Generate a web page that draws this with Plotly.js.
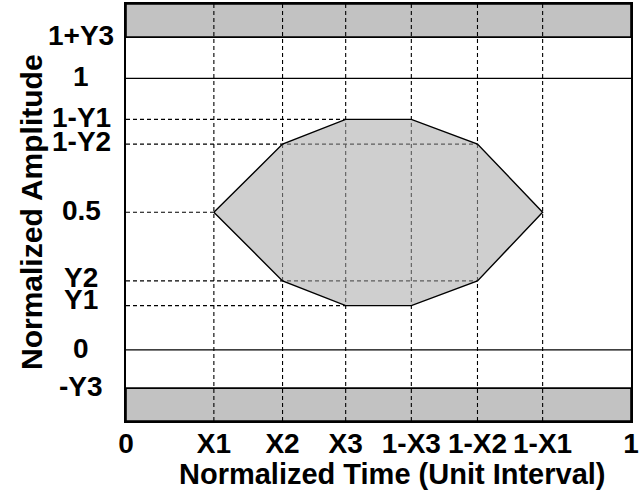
<!DOCTYPE html>
<html>
<head>
<meta charset="utf-8">
<script src="https://cdn.plot.ly/plotly-3.0.1.min.js"></script>
<style>html,body{margin:0;padding:0;background:#fff;}#chart{width:639px;height:499px;}</style>
</head>
<body>
<div id="chart"></div>
<script>
// ---- data ----
const xTickLabels = ['0', 'X1', 'X2', 'X3', '1-X3', '1-X2', '1-X1', '1'];
const xTickValues = [0, 0.174, 0.310, 0.435, 0.565, 0.696, 0.825, 1];
const yTickLabels = ['-Y3', '0', 'Y1', 'Y2', '0.5', '1-Y2', '1-Y1', '1', '1+Y3'];
const yTickValues = [-0.141, 0, 0.163, 0.254, 0.507, 0.758, 0.849, 1, 1.152];
const maskX = [0.174, 0.310, 0.435, 0.565, 0.696, 0.825, 0.696, 0.565, 0.435, 0.310, 0.174];
const maskY = [0.507, 0.758, 0.849, 0.849, 0.758, 0.507, 0.254, 0.163, 0.163, 0.254, 0.507];
const guideLevelsY = [0.849, 0.758, 0.507, 0.254, 0.163];
const guideEndsX = [0.435, 0.696, 0.174, 0.696, 0.435];
const verticalGuidesX = [0.174, 0.310, 0.435, 0.565, 0.696, 0.825];
const solidLevelsY = [0, 1];
const bandLowerY = [1.152, -0.262];
const bandUpperY = [1.274, -0.141];
const xRange = [0, 1];
const yRange = [-0.262, 1.274];

const FONT = 'Arial, "Liberation Sans", Helvetica, sans-serif';
const traces = [];

// gray limit bands
bandLowerY.forEach((lo, i) => {
  const hi = bandUpperY[i];
  traces.push({
    type: 'scatter', mode: 'lines', hoverinfo: 'skip', showlegend: false,
    x: [xRange[0], xRange[1], xRange[1], xRange[0], xRange[0]],
    y: [lo, lo, hi, hi, lo],
    fill: 'toself', fillcolor: '#c2c2c2',
    line: {color: '#000', width: 1.6}
  });
});

// solid level lines (0 and 1)
{
  const x = [], y = [];
  solidLevelsY.forEach(v => { x.push(xRange[0], xRange[1], null); y.push(v, v, null); });
  traces.push({type: 'scatter', mode: 'lines', hoverinfo: 'skip', showlegend: false,
    x, y, line: {color: '#000', width: 1.3}});
}

// dashed guides
{
  const x = [], y = [];
  verticalGuidesX.forEach(v => { x.push(v, v, null); y.push(yRange[0], yRange[1], null); });
  guideLevelsY.forEach((v, i) => { x.push(xRange[0], guideEndsX[i], null); y.push(v, v, null); });
  traces.push({type: 'scatter', mode: 'lines', hoverinfo: 'skip', showlegend: false,
    x, y, line: {color: '#000', width: 1.1, dash: '4px,3px'}});
}

// eye mask polygon
traces.push({
  type: 'scatter', mode: 'lines', hoverinfo: 'skip', showlegend: false,
  x: maskX, y: maskY, fill: 'toself', fillcolor: 'rgba(168,168,168,0.55)',
  line: {color: '#000', width: 1.4}
});

const plotLeft = 126, plotWidth = 505, plotTop = 4, plotHeight = 417;
const annotations = yTickLabels.map((t, i) => ({
  text: t, xref: 'paper', yref: 'y', x: (81 - plotLeft) / plotWidth, y: yTickValues[i],
  xanchor: 'center', yanchor: 'middle', showarrow: false, height: 21, valign: 'middle',
  yshift: t === 'Y1' ? 6 : (t === 'Y2' || t === '1-Y2') ? 3 : 1.5,
  font: {family: FONT, size: 28, color: '#000', weight: 'bold'}
}));
annotations.push({
  text: 'Normalized Amplitude', xref: 'paper', yref: 'paper',
  x: (31 - plotLeft) / plotWidth, y: (plotTop + plotHeight - 212) / plotHeight,
  xanchor: 'center', yanchor: 'middle', textangle: -90, showarrow: false,
  font: {family: FONT, size: 30, color: '#000', weight: 'bold'}
});
annotations.push({
  text: 'Normalized Time (Unit Interval)', xref: 'paper', yref: 'paper',
  x: (392 - plotLeft) / plotWidth, y: (plotTop + plotHeight - 474) / plotHeight,
  xanchor: 'center', yanchor: 'middle', showarrow: false,
  font: {family: FONT, size: 29, color: '#000', weight: 'bold'}
});

const layout = {
  width: 639, height: 499,
  margin: {l: plotLeft, r: 639 - plotLeft - plotWidth, t: plotTop, b: 499 - plotTop - plotHeight, pad: 0},
  paper_bgcolor: '#fff', plot_bgcolor: '#fff',
  showlegend: false,
  xaxis: {
    range: xRange, tickmode: 'array', tickvals: xTickValues, ticktext: xTickLabels,
    ticks: '', showgrid: false, zeroline: false, ticklabeloverflow: 'allow',
    ticklabelstandoff: -3,
    showline: true, mirror: true, linecolor: '#000', linewidth: 1.6,
    tickfont: {family: FONT, size: 28, color: '#000', weight: 'bold'},
    fixedrange: true
  },
  yaxis: {
    range: yRange, showticklabels: false, ticks: '', showgrid: false, zeroline: false,
    showline: true, mirror: true, linecolor: '#000', linewidth: 1.6,
    fixedrange: true
  },
  annotations
};

Plotly.newPlot('chart', traces, layout, {staticPlot: true, displayModeBar: false});
</script>
</body>
</html>
